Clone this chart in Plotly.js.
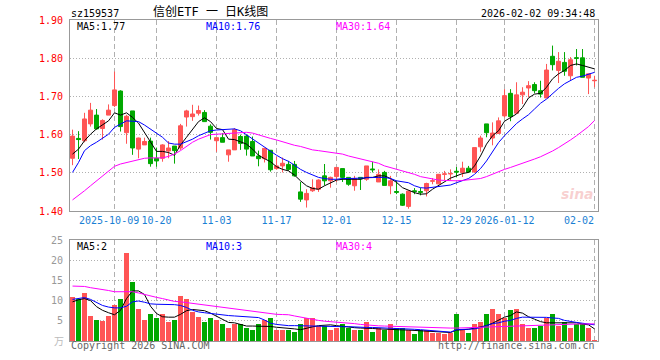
<!DOCTYPE html>
<html>
<head>
<meta charset="utf-8">
<script src="https://cdn.plot.ly/plotly-3.0.1.min.js"></script>
<style>html,body{margin:0;padding:0;background:#fff;}#chart{width:660px;height:360px;}</style>
</head>
<body>
<div id="chart"></div>
<script>
const dates = [
'2025-09-22','2025-09-23','2025-09-24','2025-09-25','2025-09-26','2025-09-29','2025-09-30',
'2025-10-09','2025-10-10','2025-10-13','2025-10-14','2025-10-15','2025-10-16','2025-10-17','2025-10-20',
'2025-10-21','2025-10-22','2025-10-23','2025-10-24','2025-10-27','2025-10-28','2025-10-29','2025-10-30','2025-10-31',
'2025-11-03','2025-11-04','2025-11-05','2025-11-06','2025-11-07','2025-11-10','2025-11-11','2025-11-12','2025-11-13','2025-11-14',
'2025-11-17','2025-11-18','2025-11-19','2025-11-20','2025-11-21','2025-11-24','2025-11-25','2025-11-26','2025-11-27','2025-11-28',
'2025-12-01','2025-12-02','2025-12-03','2025-12-04','2025-12-05','2025-12-08','2025-12-09','2025-12-10','2025-12-11','2025-12-12',
'2025-12-15','2025-12-16','2025-12-17','2025-12-18','2025-12-19','2025-12-22','2025-12-23','2025-12-24','2025-12-25','2025-12-26',
'2025-12-29','2025-12-30','2025-12-31',
'2026-01-05','2026-01-06','2026-01-07','2026-01-08','2026-01-09','2026-01-12','2026-01-13','2026-01-14','2026-01-15','2026-01-16',
'2026-01-19','2026-01-20','2026-01-21','2026-01-22','2026-01-23','2026-01-26','2026-01-27','2026-01-28','2026-01-29','2026-01-30',
'2026-02-02'];

const openP = [1.538,1.590,1.584,1.628,1.651,1.616,1.651,1.676,1.714,1.605,
1.662,1.562,1.573,1.583,1.538,1.538,1.557,1.570,1.565,1.646,
1.647,1.656,1.658,1.622,1.584,1.592,1.547,1.560,1.595,1.596,
1.582,1.544,1.537,1.559,1.511,1.518,1.522,1.522,1.450,1.429,
1.453,1.457,1.492,1.479,1.490,1.511,1.488,1.466,1.488,1.483,
1.510,1.476,1.501,1.466,1.451,1.444,1.412,1.453,1.451,1.453,
1.478,1.471,1.496,1.497,1.504,1.501,1.512,1.502,1.568,1.628,
1.591,1.603,1.649,1.708,1.656,1.704,1.722,1.731,1.715,1.696,
1.805,1.768,1.789,1.754,1.801,1.801,1.748,1.741];
const highP = [1.613,1.609,1.657,1.683,1.667,1.640,1.679,1.765,1.716,1.652,
1.662,1.592,1.592,1.592,1.566,1.575,1.583,1.570,1.628,1.665,
1.678,1.676,1.664,1.627,1.592,1.604,1.560,1.617,1.600,1.600,
1.595,1.558,1.564,1.559,1.542,1.540,1.531,1.531,1.476,1.457,
1.483,1.483,1.523,1.490,1.514,1.511,1.488,1.492,1.488,1.518,
1.529,1.509,1.505,1.492,1.479,1.446,1.452,1.460,1.461,1.474,
1.486,1.497,1.505,1.509,1.515,1.529,1.518,1.566,1.597,1.628,
1.632,1.645,1.719,1.719,1.737,1.724,1.740,1.737,1.741,1.785,
1.833,1.816,1.816,1.803,1.824,1.824,1.759,1.754];
const lowP = [1.520,1.536,1.580,1.621,1.613,1.587,1.651,1.672,1.608,1.576,
1.547,1.538,1.573,1.516,1.516,1.529,1.538,1.524,1.560,1.621,
1.636,1.650,1.634,1.587,1.555,1.580,1.529,1.560,1.560,1.545,
1.544,1.517,1.527,1.503,1.508,1.501,1.505,1.490,1.424,1.409,
1.450,1.450,1.467,1.461,1.476,1.476,1.466,1.453,1.455,1.479,
1.501,1.476,1.467,1.444,1.444,1.413,1.406,1.444,1.441,1.438,
1.470,1.470,1.481,1.481,1.488,1.489,1.500,1.500,1.555,1.593,
1.572,1.603,1.645,1.635,1.656,1.680,1.698,1.708,1.697,1.696,
1.768,1.735,1.754,1.743,1.781,1.750,1.706,1.724];
const closeP = [1.596,1.587,1.641,1.664,1.615,1.637,1.664,1.717,1.621,1.648,
1.565,1.591,1.582,1.524,1.531,1.573,1.565,1.558,1.623,1.662,
1.654,1.663,1.634,1.606,1.592,1.580,1.560,1.613,1.577,1.562,
1.544,1.537,1.564,1.508,1.518,1.525,1.509,1.492,1.431,1.446,
1.461,1.481,1.479,1.488,1.514,1.488,1.470,1.485,1.484,1.518,
1.508,1.496,1.467,1.479,1.449,1.415,1.452,1.451,1.449,1.472,
1.479,1.496,1.497,1.498,1.502,1.512,1.502,1.566,1.591,1.605,
1.604,1.636,1.702,1.647,1.704,1.711,1.728,1.715,1.706,1.769,
1.783,1.792,1.766,1.796,1.800,1.750,1.759,1.742];

const ma5 = [1.549,1.562,1.584,1.601,1.615,1.625,1.636,1.657,1.651,1.657,
1.645,1.630,1.606,1.580,1.556,1.556,1.553,1.546,1.573,1.593,
1.613,1.634,1.644,1.634,1.616,1.613,1.588,1.587,1.581,1.575,
1.562,1.546,1.537,1.529,1.516,1.509,1.505,1.494,1.479,1.466,
1.459,1.457,1.466,1.474,1.481,1.483,1.483,1.483,1.483,1.488,
1.488,1.492,1.492,1.485,1.475,1.461,1.454,1.448,1.444,1.445,
1.457,1.466,1.476,1.486,1.492,1.498,1.501,1.518,1.544,1.575,
1.597,1.610,1.635,1.645,1.654,1.671,1.696,1.706,1.708,1.724,
1.746,1.759,1.768,1.781,1.785,1.781,1.776,1.772];
const ma10 = [1.501,1.527,1.558,1.571,1.580,1.590,1.601,1.619,1.628,1.636,
1.635,1.634,1.625,1.615,1.604,1.593,1.578,1.575,1.575,1.581,
1.588,1.597,1.604,1.610,1.612,1.613,1.613,1.615,1.610,1.599,
1.588,1.578,1.566,1.556,1.546,1.537,1.530,1.520,1.509,1.501,
1.494,1.488,1.485,1.483,1.483,1.485,1.485,1.485,1.486,1.487,
1.488,1.488,1.488,1.485,1.479,1.476,1.474,1.466,1.461,1.460,
1.462,1.464,1.465,1.468,1.474,1.479,1.485,1.496,1.511,1.531,
1.555,1.579,1.597,1.614,1.629,1.641,1.652,1.667,1.682,1.693,
1.708,1.721,1.733,1.741,1.750,1.753,1.757,1.763];
const ma30 = [1.429,1.440,1.453,1.466,1.479,1.492,1.503,1.517,1.523,1.527,
1.530,1.534,1.538,1.539,1.539,1.539,1.543,1.549,1.558,1.569,
1.580,1.588,1.595,1.600,1.601,1.602,1.603,1.604,1.605,1.606,
1.604,1.599,1.593,1.590,1.586,1.581,1.578,1.572,1.569,1.564,
1.560,1.558,1.556,1.553,1.551,1.549,1.544,1.540,1.537,1.534,
1.529,1.525,1.518,1.514,1.509,1.505,1.501,1.496,1.490,1.487,
1.483,1.481,1.480,1.479,1.479,1.480,1.481,1.482,1.485,1.490,
1.497,1.503,1.509,1.514,1.519,1.524,1.530,1.536,1.542,1.549,
1.557,1.566,1.575,1.586,1.597,1.609,1.621,1.637];

const volume = [10.9,10.5,11.9,6.3,5.3,4.9,6.1,8.8,10.3,21.7,
14.6,7.9,5.3,6.8,5.8,6.8,4.6,5.3,11.1,10.3,
7.1,5.9,4.6,5.8,5.3,4.3,3.1,4.3,4.3,3.1,
2.8,4.3,5.1,5.6,2.6,2.6,2.6,2.3,4.1,5.6,
5.8,3.6,3.6,2.8,3.1,4.1,3.3,2.8,2.8,4.8,
2.3,3.1,2.8,4.3,3.1,3.3,2.6,1.8,2.6,2.6,
2.1,2.1,1.8,2.1,6.6,2.6,2.1,4.1,4.6,6.6,
7.8,6.8,5.8,7.6,7.8,4.1,3.3,3.3,3.8,5.6,
6.6,3.8,4.8,3.3,4.3,4.3,3.3,0.3];
const volMa5 = [9.7,10.2,10.5,10.0,8.5,7.6,7.0,6.5,7.6,10.5,
12.4,12.4,11.5,8.6,6.8,6.0,5.9,5.9,6.6,7.5,
7.8,7.7,7.5,6.9,6.1,5.4,4.6,4.5,4.1,3.7,
3.7,3.7,3.7,3.6,3.4,3.3,3.1,3.0,2.8,3.2,
3.5,3.8,3.9,4.0,3.8,3.6,3.4,3.3,3.2,3.2,
3.1,3.0,2.9,2.8,2.8,2.75,2.7,2.6,2.5,2.4,
2.3,2.2,2.15,2.1,2.7,2.8,2.9,3.2,3.5,3.8,
4.4,5.2,5.9,6.3,7.2,6.9,6.0,5.4,4.8,4.5,
4.5,4.5,4.5,4.5,4.5,4.2,4.0,3.0];
const volMa10 = [10.3,10.5,10.75,10.3,9.5,8.8,8.4,8.2,8.2,8.6,
9.7,9.9,9.6,9.2,9.1,9.1,9.1,9.0,8.8,8.3,
7.6,7.2,7.0,6.8,6.6,6.5,6.3,6.2,6.1,6.1,
6.0,5.8,5.2,4.4,4.1,3.9,3.8,3.8,3.75,3.7,
3.7,3.65,3.6,3.6,3.6,3.55,3.55,3.45,3.4,3.35,
3.35,3.3,3.3,3.25,3.2,3.15,3.1,2.9,2.8,2.65,
2.55,2.5,2.35,2.2,2.8,2.9,2.95,3.0,3.3,3.8,
4.3,4.5,4.9,5.1,5.6,5.9,5.9,5.9,5.9,5.85,
5.7,5.6,5.1,4.8,4.6,4.4,4.2,4.0];
const volMa30 = [13.6,13.6,13.5,13.2,13.0,12.8,12.5,12.2,12.2,12.2,
12.2,11.9,11.5,11.1,10.8,10.5,10.1,9.8,9.7,9.5,
9.3,9.1,8.9,8.7,8.5,8.3,8.1,7.9,7.7,7.5,
7.3,7.1,6.9,6.7,6.6,6.55,6.5,6.2,5.9,5.6,
5.3,5.1,4.9,4.8,4.7,4.5,4.4,4.3,4.1,3.95,
3.8,3.75,3.7,3.65,3.6,3.5,3.45,3.4,3.3,3.3,
3.25,3.2,3.2,3.2,3.2,3.25,3.3,3.35,3.4,3.5,
3.55,3.6,3.7,3.8,3.85,3.9,3.95,4.0,4.0,4.05,
4.1,4.1,4.1,4.15,4.2,4.2,4.25,4.25];

const tickDates = ['2025-10-09','2025-10-20','2025-11-03','2025-11-17','2025-12-01','2025-12-15','2025-12-29','2026-01-12','2026-02-02'];
const tickLabels = ['2025-10-09','10-20','11-03','11-17','12-01','12-15','12-29','2026-01-12','02-02'];
const priceTicks = [1.40,1.50,1.60,1.70,1.80,1.90];
const volTicks = [5,10,15,20,25];

const RED = '#ff5555', GREEN = '#00a800';
const MONO = 'DejaVu Sans Mono, Liberation Mono, monospace';

const volColors = closeP.map((c, i) => c >= openP[i] ? RED : GREEN);
// first and last date labels are drawn as annotations so they sit where the reference puts them
const firstLabel = tickLabels[0];
const lastLabel = tickLabels[tickLabels.length - 1];
const shownLabels = tickLabels.map((t, i) => (i === 0 || i === tickLabels.length - 1) ? '' : t);

const traces = [
  {type:'candlestick', x:dates, open:openP, high:highP, low:lowP, close:closeP,
   increasing:{line:{color:RED,width:1}, fillcolor:RED},
   decreasing:{line:{color:GREEN,width:1}, fillcolor:GREEN},
   whiskerwidth:0, xaxis:'x', yaxis:'y', hoverinfo:'skip', showlegend:false},
  {type:'scatter', mode:'lines', x:dates, y:ma5, line:{color:'#000000',width:1}, xaxis:'x', yaxis:'y', showlegend:false},
  {type:'scatter', mode:'lines', x:dates, y:ma10, line:{color:'#0000ff',width:1}, xaxis:'x', yaxis:'y', showlegend:false},
  {type:'scatter', mode:'lines', x:dates, y:ma30, line:{color:'#ff00ff',width:1}, xaxis:'x', yaxis:'y', showlegend:false},
  {type:'bar', x:dates, y:volume, marker:{color:volColors, line:{width:0}}, width:0.83, xaxis:'x2', yaxis:'y2', showlegend:false},
  {type:'scatter', mode:'lines', x:dates, y:volMa5, line:{color:'#000000',width:1}, xaxis:'x2', yaxis:'y2', showlegend:false},
  {type:'scatter', mode:'lines', x:dates, y:volMa10, line:{color:'#0000ff',width:1}, xaxis:'x2', yaxis:'y2', showlegend:false},
  {type:'scatter', mode:'lines', x:dates, y:volMa30, line:{color:'#ff00ff',width:1}, xaxis:'x2', yaxis:'y2', showlegend:false}
];

const gridV = {showgrid:true, gridcolor:'#b0b0b0', griddash:'5px,3px', gridwidth:1};
const xbase = Object.assign({type:'category', categoryorder:'array', categoryarray:dates,
  range:[-0.42, 87.58], tickvals:tickDates, ticktext:shownLabels, ticks:'', tickangle:0,
  showline:true, mirror:true, linecolor:'#999999', linewidth:1, zeroline:false,
  rangeslider:{visible:false}, fixedrange:true}, gridV);

function ann(text, px, py, color, anchor, size, extra) {
  return Object.assign({text:text, xref:'paper', yref:'paper', x:(px-70)/528, y:(341-py)/321,
    xanchor:anchor, yanchor:'middle', showarrow:false,
    font:{family:MONO, size:size||10, color:color}}, extra||{});
}

const layout = {
  width:660, height:360, paper_bgcolor:'#ffffff', plot_bgcolor:'#ffffff',
  margin:{l:70, r:62, t:20, b:19}, showlegend:false, boxgap:0.33, boxgroupgap:0, bargap:0,
  xaxis: Object.assign({}, xbase, {anchor:'y', showticklabels:true,
    tickfont:{family:MONO, size:10, color:'#1a7fd4'}}),
  xaxis2: Object.assign({}, xbase, {anchor:'y2', matches:'x', showticklabels:false}),
  yaxis: {domain:[0.405,1], range:[1.40,1.90], tickvals:priceTicks, tickformat:'.2f', ticks:'',
    tickfont:{family:MONO, size:10, color:'#ff0000'}, showgrid:true, gridcolor:'#b0b0b0', griddash:'1px,2px',
    showline:true, mirror:true, linecolor:'#999999', linewidth:1, zeroline:false, fixedrange:true, ticklabelstandoff:4},
  yaxis2: {domain:[0,0.3146], range:[0,25], tickvals:volTicks, ticks:'',
    tickfont:{family:MONO, size:10, color:'#999999'}, showgrid:true, gridcolor:'#b0b0b0', griddash:'1px,2px',
    showline:true, mirror:true, linecolor:'#999999', linewidth:1, zeroline:false, fixedrange:true, ticklabelstandoff:4},
  annotations: [
    ann('sz159537', 69, 13, '#000000', 'left', 10),
    {text:'信创ETF 一 日K线图', xref:'paper', yref:'paper', x:(151-70)/528, y:(341-12)/321,
      xanchor:'left', yanchor:'middle', showarrow:false,
      font:{family:'DejaVu Sans Mono, Noto Sans CJK SC', size:12, color:'#000000'}},
    ann('2026-02-02 09:34:48', 597, 13, '#000000', 'right', 10),
    ann('MA5:1.77', 75, 26, '#000000', 'left', 10),
    ann('MA10:1.76', 204, 26, '#0000ff', 'left', 10),
    ann('MA30:1.64', 334, 26, '#ff00ff', 'left', 10),
    ann(firstLabel, 141, 220, '#1a7fd4', 'right', 10),
    ann(lastLabel, 596, 220, '#1a7fd4', 'right', 10),
    ann('MA5:2', 75, 246.5, '#000000', 'left', 10),
    ann('MA10:3', 204, 246.5, '#0000ff', 'left', 10),
    ann('MA30:4', 334, 246.5, '#ff00ff', 'left', 10),
    {text:'万', xref:'paper', yref:'paper', x:(66-70)/528, y:(341-340)/321, xanchor:'right', yanchor:'middle',
      showarrow:false, font:{family:'Noto Sans CJK SC', size:10, color:'#bbbbbb'}},
    ann('Copyright 2026 SINA.COM', 69, 346, '#666666', 'left', 10),
    ann('http://finance.sina.com.cn', 597, 346, '#666666', 'right', 10),
    {text:'<b><i>sina</i></b>', xref:'paper', yref:'paper', x:(577-70)/528, y:(341-194)/321, xanchor:'center', yanchor:'middle',
      showarrow:false, font:{family:'DejaVu Sans', size:14, color:'rgba(235,120,120,0.35)'}}
  ]
};

Plotly.newPlot('chart', traces, layout, {staticPlot:true, displayModeBar:false});
</script>
</body>
</html>
